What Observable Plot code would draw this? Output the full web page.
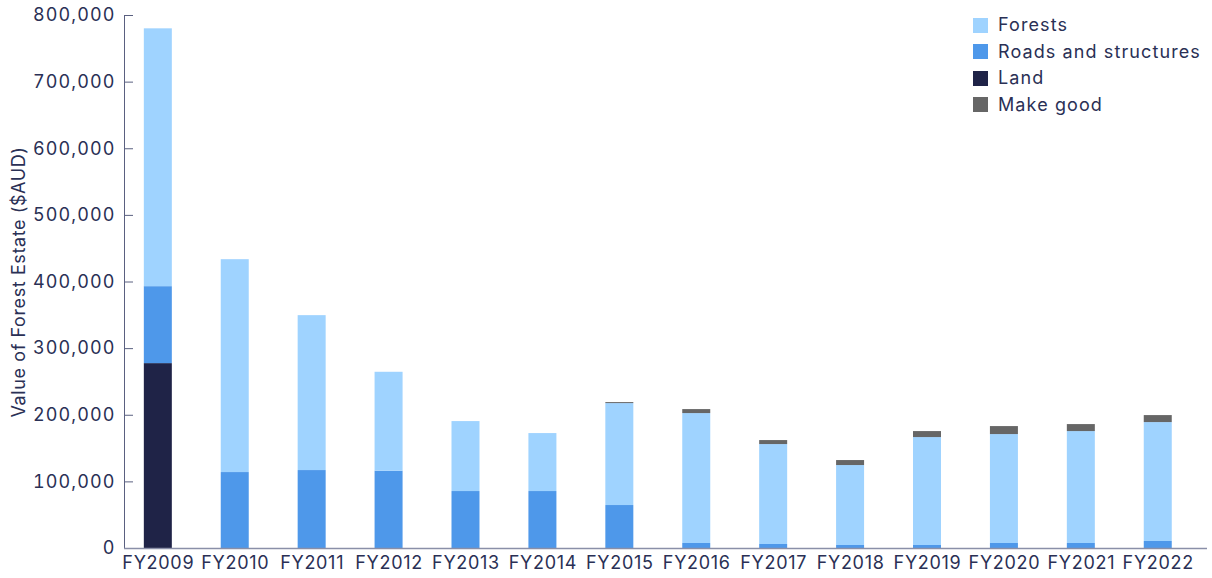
<!DOCTYPE html>
<html>
<head>
<meta charset="utf-8">
<script src="https://cdn.jsdelivr.net/npm/d3@7"></script>
<script src="https://cdn.jsdelivr.net/npm/@observablehq/plot@0.6"></script>
<style>
  body { margin: 0; background: #fff; font-family: Inter, "Noto Sans", sans-serif; }
  #wrap { position: relative; width: 1212px; height: 578px; }
  #legend { position: absolute; left: 973px; top: 12px; font-size: 18px; color: #2a3055; line-height: 26.5px; letter-spacing: 1.1px; }
  #legend .row { display: flex; align-items: center; }
  #legend .sw { width: 15px; height: 15px; margin-right: 10px; display: inline-block; }
  g[aria-label="y-axis tick label"] text { letter-spacing: 1.1px; }
  g[aria-label="x-axis tick label"] text { letter-spacing: 0.7px; }
  g[aria-label="y-axis label"] text { letter-spacing: 0.6px; }
</style>
</head>
<body>
<div id="wrap"><div id="legend"></div></div>
<script>
const years = ["FY2009","FY2010","FY2011","FY2012","FY2013","FY2014","FY2015","FY2016","FY2017","FY2018","FY2019","FY2020","FY2021","FY2022"];
const land = [277500,0,0,0,0,0,0,0,0,0,0,0,0,0];
const roads = [115500,114000,117000,116000,85500,85500,64500,7500,6000,4500,4500,7500,7500,10500];
const forests = [387000,319500,232500,148500,105000,87000,153000,195000,150000,120000,162000,163500,168000,178500];
const makeGood = [0,0,0,0,0,0,1500,6000,6000,7500,9000,12000,10500,10500];
const seriesNames = ["Land","Roads and structures","Forests","Make good"];
const seriesColors = ["#1f2347","#4e98ea","#9fd3ff","#666666"];
const legendOrder = ["Forests","Roads and structures","Land","Make good"];
const yTicks = [0,100000,200000,300000,400000,500000,600000,700000,800000];

const seriesValues = [land, roads, forests, makeGood];
const data = [];
seriesNames.forEach((s, si) => years.forEach((y, i) => data.push({year: y, series: s, value: seriesValues[si][i]})));

const chart = Plot.plot({
  width: 1212,
  height: 578,
  marginTop: 15,
  marginBottom: 30,
  marginLeft: 124,
  marginRight: 5,
  style: {fontFamily: "Inter, 'Noto Sans', sans-serif", fontSize: "17px", color: "#2a3055"},
  x: {domain: years, paddingInner: 0.636, paddingOuter: 0.358, align: 0.36, round: false, label: null},
  y: {domain: [0, 800000], label: null},
  color: {domain: seriesNames, range: seriesColors},
  marks: [
    Plot.barY(data, {x: "year", y: "value", fill: "series", order: seriesNames}),
    Plot.axisY({ticks: yTicks, tickFormat: d3.format(","), tickSize: -9, tickPadding: 18, stroke: "#5a6080", fill: "#2a3055", fontSize: 18,
      label: "Value of Forest Estate ($AUD)", labelAnchor: "center", labelArrow: "none", labelOffset: 112}),
    Plot.axisX({tickSize: 0, tickPadding: 8, fill: "#2a3055", fontSize: 18, label: null}),
    Plot.frame({anchor: "left", stroke: "#5a6080"}),
    Plot.ruleY([0], {stroke: "#8a8fa8", strokeWidth: 1.5})
  ]
});
const wrap = document.getElementById("wrap");
wrap.insertBefore(chart, wrap.firstChild);

const legend = document.getElementById("legend");
legendOrder.forEach(name => {
  const row = document.createElement("div");
  row.className = "row";
  const sw = document.createElement("span");
  sw.className = "sw";
  sw.style.background = seriesColors[seriesNames.indexOf(name)];
  row.appendChild(sw);
  row.appendChild(document.createTextNode(name));
  legend.appendChild(row);
});
</script>
</body>
</html>
